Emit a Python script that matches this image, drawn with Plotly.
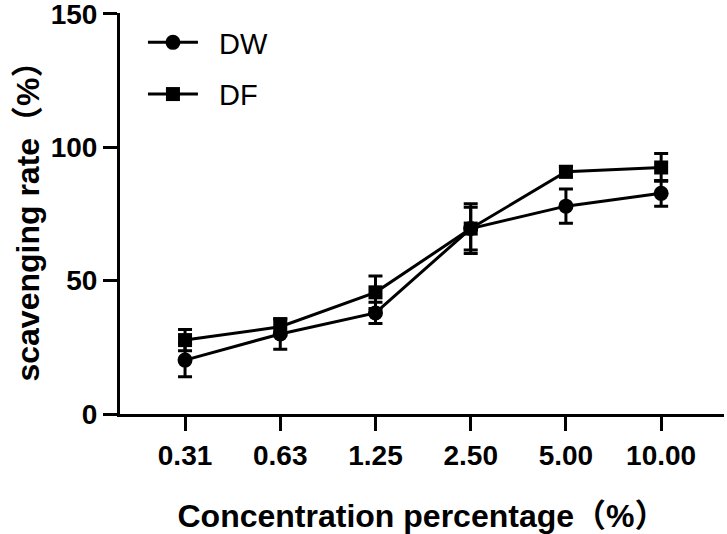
import plotly.graph_objects as go

categories = ["0.31", "0.63", "1.25", "2.50", "5.00", "10.00"]
dw_values = [20.2, 30.0, 37.9, 69.5, 77.9, 82.7]
dw_errors = [6.2, 5.7, 4.0, 9.3, 6.4, 4.8]
df_values = [27.7, 32.7, 45.6, 69.5, 90.8, 92.4]
df_errors = [4.0, 3.0, 6.1, 8.0, 2.0, 5.2]
y_ticks = [0, 50, 100, 150]

xpos = list(range(len(categories)))
FONT = "Liberation Sans, Arial, Noto Sans CJK SC, sans-serif"

fig = go.Figure()
fig.add_trace(go.Scatter(
    x=xpos, y=dw_values, name="\u00a0\u00a0DW", mode="lines+markers", legendgroup="a",
    line=dict(color="black", width=3),
    marker=dict(symbol="circle", size=15, color="black"),
    error_y=dict(type="data", array=dw_errors, color="black", thickness=3, width=7),
))
fig.add_trace(go.Scatter(
    x=xpos, y=df_values, name="\u00a0\u00a0DF", mode="lines+markers", legendgroup="b",
    line=dict(color="black", width=3),
    marker=dict(symbol="square", size=14, color="black"),
    error_y=dict(type="data", array=df_errors, color="black", thickness=3, width=7),
))

fig.update_layout(
    width=727, height=534,
    margin=dict(l=120, r=3, t=13, b=120, autoexpand=False),
    paper_bgcolor="white", plot_bgcolor="white",
    font=dict(family=FONT, color="black"),
    showlegend=True,
    legend=dict(x=0.038, y=0.99, xanchor="left", yanchor="top",
                font=dict(size=29, family=FONT, color="black"),
                bgcolor="rgba(0,0,0,0)", itemwidth=50, tracegroupgap=11,
                traceorder="grouped"),
    xaxis=dict(
        range=[-0.683, 5.66], tickmode="array", tickvals=xpos, ticktext=categories,
        showline=True, linecolor="black", linewidth=3,
        ticks="outside", ticklen=14, tickwidth=3, tickcolor="black",
        showgrid=False, zeroline=False,
        tickfont=dict(size=28, family=FONT, color="black", weight="bold"),
        title=dict(text="<b>Concentration percentage（%）</b>", standoff=38,
                   font=dict(size=32, family=FONT, color="black")),
    ),
    yaxis=dict(
        range=[0, 150.3], tickmode="array", tickvals=y_ticks,
        showline=True, linecolor="black", linewidth=3,
        ticks="outside", ticklen=14, tickwidth=3, tickcolor="black",
        showgrid=False, zeroline=False, ticklabeloverflow="allow",
        tickfont=dict(size=28, family=FONT, color="black", weight="bold"),
        title=dict(text="<b>scavenging rate（%）</b>", standoff=2,
                   font=dict(size=32, family=FONT, color="black")),
    ),
)

fig.write_html("out.html", config={"displayModeBar": False},
               post_script="document.body.style.margin='0';")
